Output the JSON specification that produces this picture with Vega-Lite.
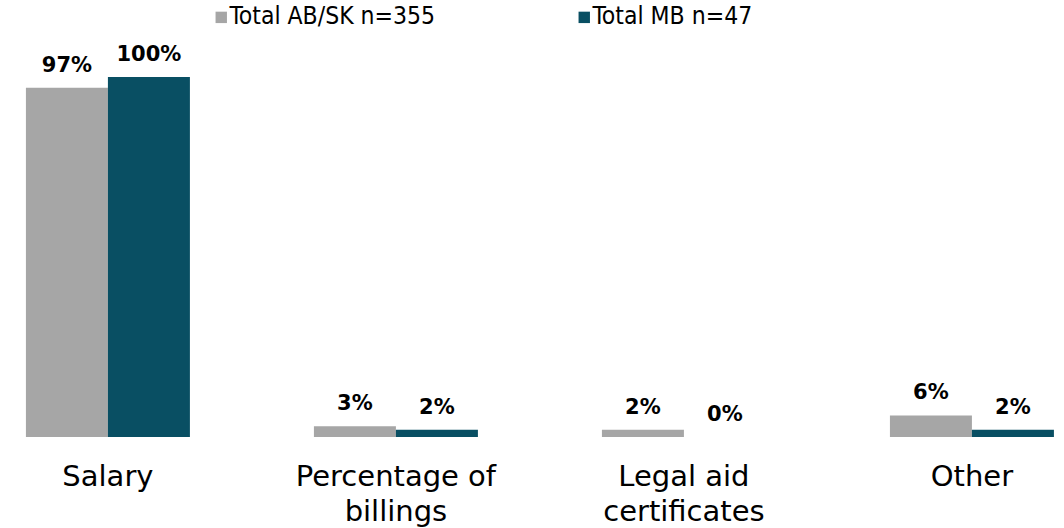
{
  "$schema": "https://vega.github.io/schema/vega-lite/v6.json",
  "width": 1064,
  "height": 432,
  "autosize": "none",
  "padding": {"left": 0, "top": 5, "right": 0, "bottom": 91},
  "background": "white",
  "config": {"view": {"stroke": null}, "font": "DejaVu Sans"},
  "data": {"values": [
    {"category": "Salary", "series": "Total AB/SK n=355", "value": 0.97, "label": "97%"},
    {"category": "Salary", "series": "Total MB n=47", "value": 1.00, "label": "100%"},
    {"category": "Percentage of billings", "series": "Total AB/SK n=355", "value": 0.03, "label": "3%"},
    {"category": "Percentage of billings", "series": "Total MB n=47", "value": 0.02, "label": "2%"},
    {"category": "Legal aid certificates", "series": "Total AB/SK n=355", "value": 0.02, "label": "2%"},
    {"category": "Legal aid certificates", "series": "Total MB n=47", "value": 0.0, "label": "0%"},
    {"category": "Other", "series": "Total AB/SK n=355", "value": 0.06, "label": "6%"},
    {"category": "Other", "series": "Total MB n=47", "value": 0.02, "label": "2%"}
  ]},
  "encoding": {
    "x": {
      "field": "category", "type": "nominal", "sort": null,
      "scale": {"paddingInner": 0.4306, "paddingOuter": 0.0625, "align": 0.72},
      "axis": {
        "title": null, "labelAngle": 0, "domain": false, "ticks": false, "grid": false,
        "labelFontSize": 29, "labelColor": "#000000", "labelPadding": 25, "labelLineHeight": 35,
        "labelFont": "DejaVu Sans", "labelLimit": 400,
        "labelExpr": "datum.value == 'Percentage of billings' ? ['Percentage of', 'billings'] : datum.value == 'Legal aid certificates' ? ['Legal aid', 'certificates'] : datum.value"
      }
    },
    "xOffset": {"field": "series", "type": "nominal", "sort": null, "scale": {"paddingInner": 0, "paddingOuter": 0}},
    "y": {
      "field": "value", "type": "quantitative",
      "scale": {"domain": [0, 1.2], "nice": false, "zero": true},
      "axis": null
    }
  },
  "layer": [
    {
      "mark": {"type": "bar"},
      "encoding": {
        "color": {
          "field": "series", "type": "nominal", "sort": null,
          "scale": {"domain": ["Total AB/SK n=355", "Total MB n=47"], "range": ["#A6A6A6", "#094F63"]},
          "legend": {
            "title": null, "orient": "none", "direction": "horizontal",
            "legendX": 209, "legendY": 0,
            "symbolType": "square", "symbolSize": 130, "symbolStrokeWidth": 0, "symbolOffset": 0,
            "labelFontSize": 24.5, "labelColor": "#000000", "labelOffset": -4, "labelFont": "DejaVu Sans Condensed",
            "columnPadding": 136, "labelLimit": 400
          }
        }
      }
    },
    {
      "mark": {"type": "text", "baseline": "bottom", "dy": -12, "fontSize": 21, "fontWeight": "bold", "color": "#000000", "font": "DejaVu Sans"},
      "encoding": {"text": {"field": "label", "type": "nominal"}}
    }
  ]
}
